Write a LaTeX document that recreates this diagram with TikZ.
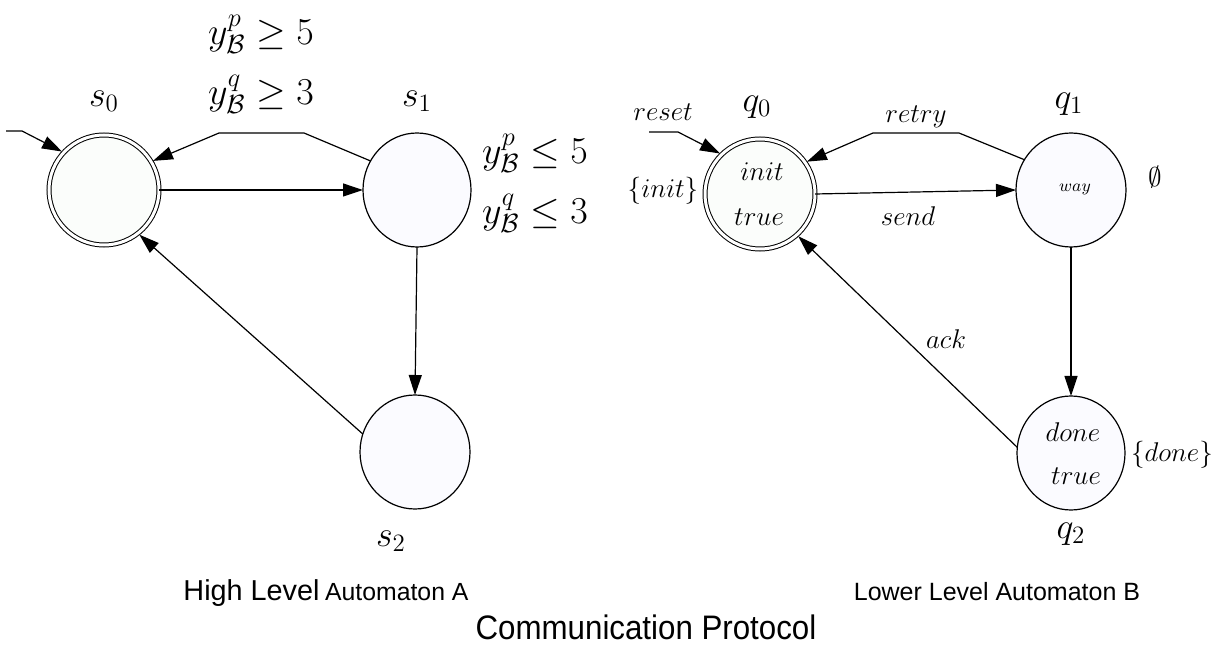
\documentclass[tikz,border=0pt]{standalone}
\usepackage{fontspec}
\newfontfamily\labelsans{Liberation Sans}
\usetikzlibrary{arrows.meta,shapes.geometric}
\definecolor{fillA}{RGB}{251,253,251}
\definecolor{fillB}{RGB}{251,251,255}
\begin{document}
\begin{tikzpicture}[x=0.5pt,y=-0.5pt,
  every node/.style={inner sep=0pt, outer sep=0pt},
  state/.style={ellipse, draw, line width=0.6pt, fill=fillB},
  acc/.style={ellipse, draw, line width=0.5pt, double, double distance=1.5pt,
    fill=fillA, minimum width=55pt, minimum height=55pt},
  edge/.style={line width=0.6pt, -{Triangle[length=10pt,width=6.5pt]}},
  toacc/.style={edge, shorten >=1pt},
  mlab/.style={font=\LARGE, scale=1.04},
  glab/.style={font=\LARGE, scale=1.1},
  ilab/.style={font=\Large, scale=0.94},
]
\useasboundingbox (0,0) rectangle (1215,646);

% ---------- High level automaton A ----------
\node[acc] (s0) at (104,190) {};
\node[state, minimum width=54pt, minimum height=57pt] (s1) at (417,190) {};
\node[state, minimum width=55pt, minimum height=57pt] (s2) at (415,452) {};

\node[mlab] (ls0) at (104,101) {$s_0$};
\node[mlab] (ls1) at (417,101) {$s_1$};
\node[mlab] (ls2) at (391,541) {$s_2$};

\node[glab] (g1) at (261,34) {$y^p_{\mathcal{B}}\geq 5$};
\node[glab] (g2) at (261,94) {$y^q_{\mathcal{B}}\geq 3$};
\node[glab] (g3) at (535,153) {$y^p_{\mathcal{B}}\leq 5$};
\node[glab] (g4) at (535,213) {$y^q_{\mathcal{B}}\leq 3$};

\coordinate (i0) at (6,131);
\coordinate (i1) at (22,131);
\coordinate (a1) at (304,133);
\coordinate (a2) at (219,133);
\draw[toacc] (i0) -- (i1) -- (s0.137);
\draw[toacc] (s1.148) -- (a1) -- (a2) -- (s0.31);
\draw[edge] (s0.east) -- (s1.west);
\draw[edge] (s1.south) -- (s2.north);
\draw[toacc] (s2.161) -- (s0.-52);

% ---------- Lower level automaton B ----------
\node[acc] (q0) at (760,194) {};
\node[state, minimum width=55pt, minimum height=57pt] (q1) at (1071,190) {};
\node[state, minimum width=54pt, minimum height=57pt] (q2) at (1071,453) {};

\node[mlab] (lq0) at (757,107) {$q_0$};
\node[mlab] (lq1) at (1069,104) {$q_1$};
\node[mlab] (lq2) at (1071,534) {$q_2$};

\node[ilab] (reset) at (663,112) {$reset$};
\node[ilab] (linit) at (663,191) {$\{init\}$};
\node[ilab] (init) at (762,172) {$init$};
\node[ilab] (true0) at (759,217) {$true$};
\node[ilab] (retry) at (916,117) {$retry$};
\node[ilab] (send) at (908,216) {$send$};
\node[font=\small, scale=0.95] (way) at (1075,189) {$way$};
\node[ilab] (empty) at (1155,177) {$\emptyset$};
\node[ilab] (done) at (1073,432) {$done$};
\node[ilab] (true2) at (1076,476) {$true$};
\node[ilab] (ldone) at (1172,455) {$\{done\}$};
\node[ilab] (ack) at (946,339) {$ack$};

\coordinate (r0) at (649,132);
\coordinate (r1) at (678,132);
\coordinate (b1) at (959,133);
\coordinate (b2) at (873,133);
\draw[toacc] (r0) -- (r1) -- (q0.134);
\draw[toacc] (q1.147) -- (b1) -- (b2) -- (q0.35);
\draw[edge] (q0.east) -- (q1.west);
\draw[edge] (q1.south) -- (q2.north);
\draw[toacc] (q2.174) -- (q0.-48);

% ---------- captions ----------
\node[anchor=base] (capA) at (326,600)
  {\labelsans{\fontsize{14.4}{16}\selectfont High Level} {\fontsize{12.4}{14}\selectfont Automaton A}};
\node[anchor=base, font=\labelsans\fontsize{12.5}{14}\selectfont] (capB) at (997,600)
  {Lower Level Automaton B};
\node[anchor=base, font=\labelsans\fontsize{17}{19}\selectfont, xscale=0.92] (capC) at (646,639)
  {Communication Protocol};
\end{tikzpicture}
\end{document}
